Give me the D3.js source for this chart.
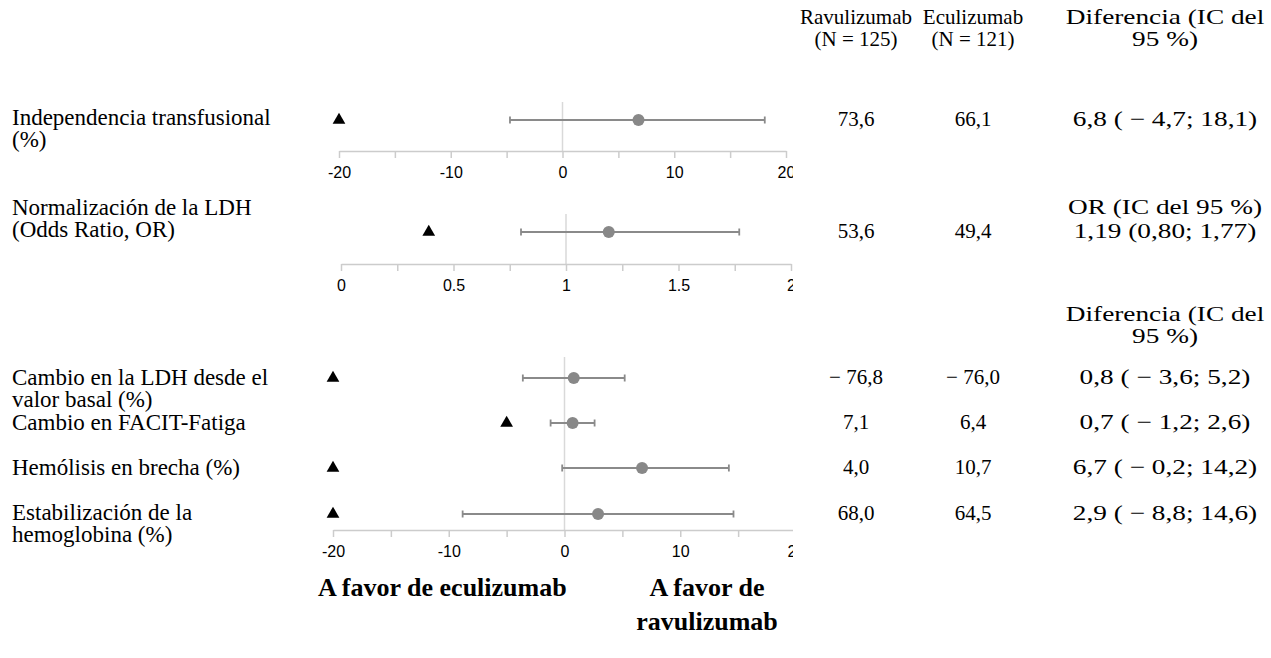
<!DOCTYPE html>
<html>
<head>
<meta charset="utf-8">
<script src="https://cdn.jsdelivr.net/npm/d3@7"></script>
<style>
    body { margin: 0; background: #fff; }
    svg text { font-family: "Liberation Serif", "Times New Roman", serif; fill: #000; }
</style>
</head>
<body>
<div id="chart"></div>
<script>
// ---- data ----
const rowLabels = [
    ["Independencia transfusional", "(%)"],
    ["Normalización de la LDH", "(Odds Ratio, OR)"],
    ["Cambio en la LDH desde el", "valor basal (%)"],
    ["Cambio en FACIT-Fatiga"],
    ["Hemólisis en brecha (%)"],
    ["Estabilización de la", "hemoglobina (%)"]
];
const estimates = [6.8, 1.19, 0.8, 0.7, 6.7, 2.9];
const ciLower = [-4.7, 0.80, -3.6, -1.2, -0.2, -8.8];
const ciUpper = [18.1, 1.77, 5.2, 2.6, 14.2, 14.6];
const triangleValues = [-20, 0.39, -20, -5, -20, -20];
const ravulizumabVals = ["73,6", "53,6", "\u2212 76,8", "7,1", "4,0", "68,0"];
const eculizumabVals = ["66,1", "49,4", "\u2212 76,0", "6,4", "10,7", "64,5"];
const diffVals = [
    "6,8 ( \u2212 4,7; 18,1)",
    "1,19 (0,80; 1,77)",
    "0,8 ( \u2212 3,6; 5,2)",
    "0,7 ( \u2212 1,2; 2,6)",
    "6,7 ( \u2212 0,2; 14,2)",
    "2,9 ( \u2212 8,8; 14,6)"
];
const columnHeaders = [["Ravulizumab", "(N = 125)"], ["Eculizumab", "(N = 121)"], ["Diferencia (IC del", "95 %)"]];
const orHeader = ["OR (IC del 95 %)"];
const diffHeader = ["Diferencia (IC del", "95 %)"];
const diffTicks = [-20, -15, -10, -5, 0, 5, 10, 15, 20];
const diffTickLabels = [-20, -10, 0, 10, 20];
const orTicks = [0, 0.25, 0.5, 0.75, 1, 1.25, 1.5, 1.75, 2];
const orTickLabels = [0, 0.5, 1, 1.5, 2];
const favorLeft = ["A favor de eculizumab"];
const favorRight = ["A favor de", "ravulizumab"];

// ---- layout ----
const W = 1271, H = 658;
const clipRight = 793;
const colX = [856, 973, 1165];
const diffStretch = 1.3;   // the last column is drawn wider in the original
const lineH = 22;

const panels = [
    { rows: [0], domain: [-20, 20], range: [339, 786], ticks: diffTicks, labels: diffTickLabels,
      ref: 0, top: 102, axisY: 151, rowY: [120], labelY: [125] },
    { rows: [1], domain: [0, 2], range: [341, 791], ticks: orTicks, labels: orTickLabels,
      ref: 1, top: 214, axisY: 264, rowY: [232], labelY: [215] },
    { rows: [2, 3, 4, 5], domain: [-20, 20], range: [333, 796], ticks: diffTicks, labels: diffTickLabels,
      ref: 0, top: 357, axisY: 530, rowY: [378, 423, 468, 514], labelY: [385, 430, 475, 520] }
];

const svg = d3.select("#chart")
    .append("svg")
    .attr("width", W)
    .attr("height", H);

svg.append("clipPath").attr("id", "plotclip")
    .append("rect").attr("x", 0).attr("y", 0).attr("width", clipRight).attr("height", H);

const plot = svg.append("g").attr("clip-path", "url(#plotclip)");

function lines(sel, arr, x, y, anchor, size, sx = 1) {
    const g = sel.append("g").attr("transform", `translate(${x},${y}) scale(${sx},1)`);
    const t = g.append("text")
        .attr("x", 0).attr("y", 0)
        .attr("text-anchor", anchor)
        .style("font-size", size + "px");
    arr.forEach((s, i) => {
        t.append("tspan").attr("x", 0).attr("dy", i === 0 ? 0 : lineH).text(s);
    });
    return t;
}

panels.forEach(p => {
    const x = d3.scaleLinear().domain(p.domain).range(p.range);

    // reference line
    plot.append("line")
        .attr("x1", x(p.ref)).attr("x2", x(p.ref))
        .attr("y1", p.top).attr("y2", p.axisY)
        .attr("stroke", "#d9d9d9")
        .attr("stroke-width", 1.5);

    // axis
    const ax = plot.append("g")
        .attr("transform", `translate(0,${p.axisY})`)
        .call(d3.axisBottom(x)
            .tickValues(p.ticks)
            .tickSize(7)
            .tickSizeOuter(0)
            .tickPadding(9)
            .tickFormat(d => p.labels.includes(d) ? String(d) : ""));
    ax.select(".domain").attr("stroke", "#cccccc").attr("stroke-width", 1.5);
    ax.selectAll(".tick line").attr("stroke", "#cccccc").attr("stroke-width", 1.5);
    ax.selectAll(".tick text")
        .style("font-family", "'Liberation Sans', Arial, sans-serif")
        .style("font-size", "16px")
        .attr("fill", "#555");

    p.rows.forEach((r, i) => {
        const y = p.rowY[i];
        const g = plot.append("g");
        g.append("line")
            .attr("x1", x(ciLower[r])).attr("x2", x(ciUpper[r]))
            .attr("y1", y).attr("y2", y)
            .attr("stroke", "#8a8a8a").attr("stroke-width", 1.8);
        [ciLower[r], ciUpper[r]].forEach(v => {
            g.append("line")
                .attr("x1", x(v)).attr("x2", x(v))
                .attr("y1", y - 3.5).attr("y2", y + 3.5)
                .attr("stroke", "#8a8a8a").attr("stroke-width", 1.8);
        });
        g.append("circle")
            .attr("cx", x(estimates[r])).attr("cy", y)
            .attr("r", 6)
            .attr("fill", "#888");
        g.append("path")
            .attr("d", d3.symbol(d3.symbolTriangle).size(70)())
            .attr("transform", `translate(${x(triangleValues[r])},${y})`)
            .attr("fill", "#000");

        // left label
        lines(svg, rowLabels[r], 12, p.labelY[i], "start", 23);
        // table values
        lines(svg, [ravulizumabVals[r]], colX[0], y + 6, "middle", 21);
        lines(svg, [eculizumabVals[r]], colX[1], y + 6, "middle", 21);
        lines(svg, [diffVals[r]], colX[2], y + 6, "middle", 21, diffStretch);
    });
});

// table headers
lines(svg, columnHeaders[0], colX[0], 24, "middle", 21);
lines(svg, columnHeaders[1], colX[1], 24, "middle", 21);
lines(svg, columnHeaders[2], colX[2], 24, "middle", 21, diffStretch);
lines(svg, orHeader, colX[2], 214, "middle", 21, diffStretch);
lines(svg, diffHeader, colX[2], 321, "middle", 21, diffStretch);

// favour labels
lines(svg, favorLeft, 318, 596, "start", 26).style("font-weight", "bold");
lines(svg, favorRight, 707, 596, "middle", 26)
    .style("font-weight", "bold")
    .selectAll("tspan").attr("dy", (d, i) => i === 0 ? 0 : 34);
</script>
</body>
</html>
